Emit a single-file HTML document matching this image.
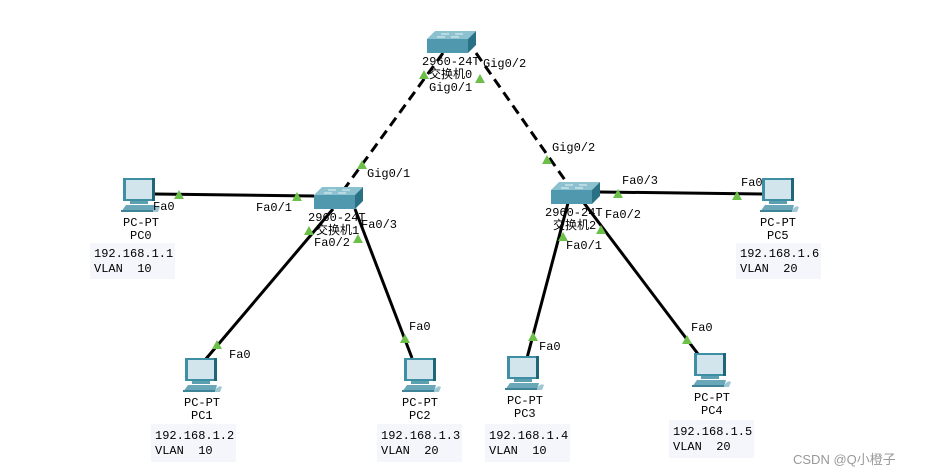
<!DOCTYPE html>
<html><head><meta charset="utf-8"><style>
html,body{margin:0;padding:0;background:#fff;width:927px;height:476px;overflow:hidden}
svg{display:block}
text{font-family:"Liberation Mono","Noto Sans CJK SC",monospace;font-size:12px;fill:#000;white-space:pre}
.box{fill:#f4f6fb}
</style></head><body>
<svg width="927" height="476" viewBox="0 0 927 476" xmlns="http://www.w3.org/2000/svg" xml:space="preserve">
<defs>
<g id="pc">
  <rect x="0" y="0" width="32" height="23" fill="#3f8fa4"/>
  <rect x="3" y="2" width="26" height="19" fill="#d3e5ec"/>
  <rect x="29" y="0" width="3" height="23" fill="#1f6678"/>
  <rect x="7" y="23" width="18" height="3" fill="#5c9fb0"/>
  <polygon points="-2,34 3,27 32,27 30,34" fill="#6aa7b8"/>
  <rect x="-2" y="32" width="32" height="2" fill="#3f8397"/>
  <path d="M31,31 q3,-4 6,-2 l-2,5 h-5z" fill="#9fc7d2"/>
</g>
<g id="sw">
  <polygon points="0,8 8,0 49,0 41,8" fill="#8cc1cf"/>
  <rect x="0" y="8" width="41" height="14" fill="#4f98ad"/>
  <polygon points="41,8 49,0 49,14 41,22" fill="#2a7186"/>
  <path d="M14,3 h8 M28,3 h8 M10,6 h8 M24,6 h8" stroke="#e8f4f7" stroke-width="1"/>
</g>
<polygon id="tri" points="0,-5 5,4 -5,4" fill="#6cc04a"/>
</defs>

<g stroke="#000" stroke-width="3" fill="none">
  <line x1="443" y1="53" x2="345" y2="188" stroke-dasharray="10,6"/>
  <line x1="476" y1="53" x2="567" y2="183" stroke-dasharray="10,6"/>
  <line x1="155" y1="194" x2="314" y2="196"/>
  <line x1="333" y1="209" x2="205" y2="360"/>
  <line x1="355" y1="209" x2="412" y2="358"/>
  <line x1="568" y1="203" x2="527" y2="358"/>
  <line x1="584" y1="203" x2="698" y2="354"/>
  <line x1="600" y1="192" x2="762" y2="194"/>
</g>

<use href="#sw" x="427" y="31"/>
<use href="#sw" x="314" y="187"/>
<use href="#sw" x="551" y="182"/>

<use href="#pc" x="123" y="178"/>
<use href="#pc" x="185" y="358"/>
<use href="#pc" x="404" y="358"/>
<use href="#pc" x="507" y="356"/>
<use href="#pc" x="694" y="353"/>
<use href="#pc" x="762" y="178"/>

<use href="#tri" x="424" y="75"/>
<use href="#tri" x="480" y="79"/>
<use href="#tri" x="362" y="165"/>
<use href="#tri" x="547" y="160"/>
<use href="#tri" x="179" y="195"/>
<use href="#tri" x="297" y="197"/>
<use href="#tri" x="309" y="231"/>
<use href="#tri" x="358" y="239"/>
<use href="#tri" x="217" y="345"/>
<use href="#tri" x="405" y="339"/>
<use href="#tri" x="618" y="194"/>
<use href="#tri" x="737" y="196"/>
<use href="#tri" x="563" y="237"/>
<use href="#tri" x="601" y="230"/>
<use href="#tri" x="533" y="337"/>
<use href="#tri" x="687" y="340"/>

<text x="422" y="65">2960-24T</text>
<text x="429" y="78">交换机0</text>
<text x="483" y="67">Gig0/2</text>
<text x="429" y="91">Gig0/1</text>
<text x="367" y="177">Gig0/1</text>
<text x="552" y="151">Gig0/2</text>
<text x="308" y="221">2960-24T</text>
<text x="316" y="234">交换机1</text>
<text x="361" y="228">Fa0/3</text>
<text x="314" y="246">Fa0/2</text>
<text x="256" y="211">Fa0/1</text>
<text x="153" y="210">Fa0</text>
<text x="545" y="216">2960-24T</text>
<text x="553" y="229">交换机2</text>
<text x="605" y="218">Fa0/2</text>
<text x="566" y="249">Fa0/1</text>
<text x="622" y="184">Fa0/3</text>
<text x="741" y="186">Fa0</text>
<text x="229" y="358">Fa0</text>
<text x="409" y="330">Fa0</text>
<text x="539" y="350">Fa0</text>
<text x="691" y="331">Fa0</text>

<text x="123" y="226">PC-PT</text><text x="130" y="239">PC0</text>
<text x="184" y="406">PC-PT</text><text x="191" y="419">PC1</text>
<text x="402" y="406">PC-PT</text><text x="409" y="419">PC2</text>
<text x="507" y="404">PC-PT</text><text x="514" y="417">PC3</text>
<text x="694" y="401">PC-PT</text><text x="701" y="414">PC4</text>
<text x="760" y="226">PC-PT</text><text x="767" y="239">PC5</text>

<rect class="box" x="90" y="243" width="85" height="36"/>
<text x="94" y="257">192.168.1.1</text><text x="94" y="272">VLAN  10</text>
<rect class="box" x="151" y="424" width="85" height="38"/>
<text x="155" y="439">192.168.1.2</text><text x="155" y="454">VLAN  10</text>
<rect class="box" x="377" y="424" width="85" height="38"/>
<text x="381" y="439">192.168.1.3</text><text x="381" y="454">VLAN  20</text>
<rect class="box" x="485" y="424" width="85" height="38"/>
<text x="489" y="439">192.168.1.4</text><text x="489" y="454">VLAN  10</text>
<rect class="box" x="669" y="420" width="85" height="38"/>
<text x="673" y="435">192.168.1.5</text><text x="673" y="450">VLAN  20</text>
<rect class="box" x="736" y="243" width="85" height="36"/>
<text x="740" y="257">192.168.1.6</text><text x="740" y="272">VLAN  20</text>

<text x="793" y="464" style="font-family:'Liberation Sans','Noto Sans CJK SC',sans-serif;font-size:13px;fill:#999">CSDN @Q小橙子</text>
</svg>
</body></html>
